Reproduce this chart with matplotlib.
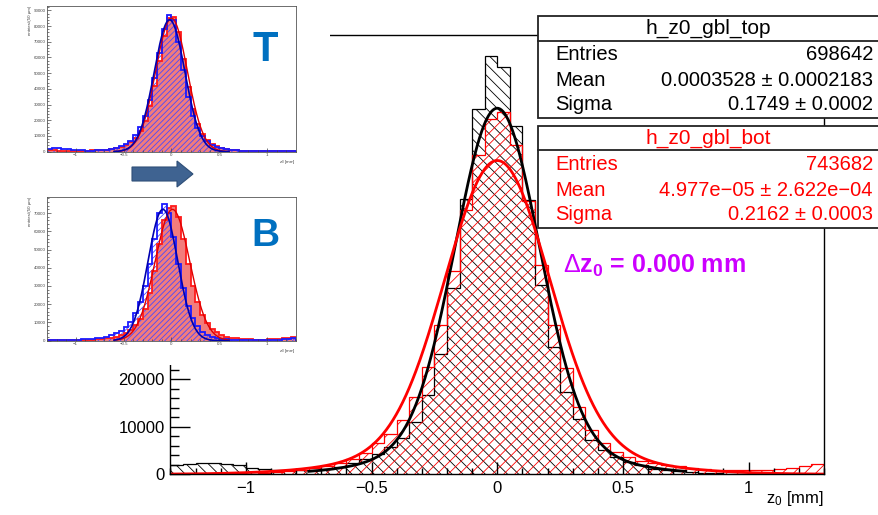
import numpy as np
import matplotlib
matplotlib.use("Agg")
import matplotlib.pyplot as plt
from matplotlib.patches import Rectangle, Polygon
from matplotlib.ticker import MultipleLocator, FixedLocator, FuncFormatter

# ---------------- data ----------------
BIN_LO, BIN_HI, BIN_W = -1.3, 1.3, 0.05

top_counts = [1900, 2100, 2400, 2400, 2200, 1900, 1400, 1200, 1000, 850,
              800, 900, 1100, 1500, 2300, 3300, 4300, 5700, 7700, 11000,
              16600, 25400, 39200, 57800, 76800, 88000, 85700, 73200, 57700, 39800,
              26800, 17300, 11700, 7200, 5200, 3600, 2600, 1900, 1200, 900,
              600, 400, 300, 200, 150, 100, 80, 60, 50, 50, 40, 40]
bot_counts = [50, 50, 50, 50, 80, 100, 150, 300, 500, 700,
              900, 1300, 1700, 2400, 3300, 4500, 6500, 8400, 11400, 16300,
              22600, 31400, 42800, 55600, 67200, 74800, 76200, 69200, 57500, 44000,
              31400, 22300, 14200, 9300, 6500, 4700, 3600, 2700, 2300, 2000,
              1700, 1300, 1100, 900, 850, 800, 900, 1000, 1200, 1400, 1700, 2100]

# double-gaussian fit parameters: A1, mean, sigma1, A2, sigma2
top_fit = [70000, 0.0, 0.165, 7000, 0.34]
top_fit_range = [-0.75, 0.75]
bot_fit = [60000, 0.0, 0.205, 6000, 0.42]
bot_fit_range = [-1.3, 1.3]

top_stats = [("Entries", "698642"), ("Mean", "0.0003528 \u00b1 0.0002183"), ("Sigma", "0.1749 \u00b1 0.0002")]
bot_stats = [("Entries", "743682"), ("Mean", "4.977e\u221205 \u00b1 2.622e\u221204"), ("Sigma", "0.2162 \u00b1 0.0003")]
top_name = "h_z0_gbl_top"
bot_name = "h_z0_gbl_bot"
delta_text = "$\\Delta$z$_\\mathbf{0}$ = 0.000 mm"

y_max_main = 92400

# inset histograms (blue = top-like, red = bottom-like)
insT_blue = [2000, 2200, 2200, 1800, 1500, 1200, 1000, 800, 700, 700,
             800, 1000, 1300, 1800, 2500, 3500, 5000, 7000, 10500, 15500,
             23000, 33000, 47000, 63000, 78000, 87000, 84000, 70000, 52000, 35000,
             23000, 15000, 10000, 6500, 4300, 3000, 2100, 1500, 1100, 800,
             600, 500, 400, 300, 300, 250, 200, 200, 150, 150, 150, 150]
insT_red = [800, 800, 700, 700, 700, 600, 600, 600, 700, 800,
            900, 1100, 1400, 1800, 2400, 3200, 4500, 6200, 9000, 13000,
            19500, 29000, 42000, 58000, 74000, 85000, 86000, 76000, 59000, 41000,
            27000, 17500, 11500, 7500, 5000, 3400, 2400, 1700, 1200, 900,
            700, 500, 400, 350, 300, 250, 200, 200, 200, 150, 150, 150]
insB_blue = [300, 300, 300, 400, 400, 500, 600, 700, 800, 1000,
             1300, 1700, 2300, 3000, 4000, 5500, 7500, 10500, 15000, 21000,
             30000, 42000, 56000, 70000, 75000, 70000, 57000, 42000, 29000, 19000,
             12500, 8000, 5000, 3300, 2200, 1500, 1100, 800, 600, 500,
             400, 300, 300, 250, 200, 200, 200, 300, 500, 800, 1200, 1500]
insB_red = [200, 200, 200, 200, 200, 300, 300, 400, 500, 600,
            800, 1000, 1300, 1700, 2300, 3100, 4300, 6000, 8500, 12000,
            17500, 26000, 38000, 53000, 66000, 73000, 74000, 68000, 56000, 42000,
            30000, 21000, 14000, 9500, 6500, 4500, 3200, 2300, 1700, 1300,
            1000, 800, 700, 600, 600, 600, 700, 800, 1000, 1300, 1700, 2200]
# single gaussian fits: A, mean, sigma
insT_blue_fit = [84000, -0.02, 0.16]
insT_red_fit = [85000, 0.0, 0.165]
insB_blue_fit = [72000, -0.09, 0.155]
insB_red_fit = [72000, 0.01, 0.18]
insT_ymax = 92800
insB_ymax = 78800

# ---------------- style ----------------
plt.rcParams['font.family'] = ['Liberation Sans', 'DejaVu Sans']
plt.rcParams['mathtext.fontset'] = 'custom'
plt.rcParams['mathtext.rm'] = 'Liberation Sans'
plt.rcParams['mathtext.it'] = 'Liberation Sans:italic'
plt.rcParams['mathtext.bf'] = 'Liberation Sans:bold'
plt.rcParams['hatch.linewidth'] = 0.6

W, H = 879, 515
fig = plt.figure(figsize=(W / 100, H / 100), dpi=100)


def ax_px(l, t, r, b):
    return [l / W, 1 - b / H, (r - l) / W, (b - t) / H]


def fx(x):
    return x / W


def fy(y):
    return 1 - y / H


nb = int(round((BIN_HI - BIN_LO) / BIN_W))
edges = np.linspace(BIN_LO, BIN_HI, nb + 1)


def dgaus(x, p):
    return p[0] * np.exp(-0.5 * ((x - p[1]) / p[2]) ** 2) + p[3] * np.exp(-0.5 * ((x - p[1]) / p[4]) ** 2)


def gaus(x, p):
    return p[0] * np.exp(-0.5 * ((x - p[1]) / p[2]) ** 2)


def xfmt(v, p):
    return ('%g' % v).replace('-', '\u2212')


# ---------------- main plot ----------------
ax = fig.add_axes(ax_px(170.5, 35, 824, 474.3))
ax.set_zorder(0)
ax.stairs(top_counts, edges, fill=True, facecolor='none', edgecolor='black',
          hatch='\\\\\\', linewidth=0.9)
ax.stairs(bot_counts, edges, fill=True, facecolor='none', edgecolor='#FF0000',
          hatch='///', linewidth=0.9)
xf = np.linspace(top_fit_range[0], top_fit_range[1], 500)
ax.plot(xf, dgaus(xf, top_fit), color='black', lw=2.0)
xf2 = np.linspace(bot_fit_range[0], bot_fit_range[1], 800)
ax.plot(xf2, dgaus(xf2, bot_fit), color='#FF0000', lw=2.0)

ax.set_xlim(BIN_LO, BIN_HI)
ax.set_ylim(0, y_max_main)
for s in ax.spines.values():
    s.set_linewidth(1.0)
ax.xaxis.set_major_locator(FixedLocator([-1, -0.5, 0, 0.5, 1]))
ax.xaxis.set_minor_locator(MultipleLocator(0.1))
ax.yaxis.set_major_locator(MultipleLocator(10000))
ax.yaxis.set_minor_locator(MultipleLocator(2000))
ax.xaxis.set_major_formatter(FuncFormatter(xfmt))
ax.yaxis.set_major_formatter(FuncFormatter(lambda v, p: '%d' % v))
ax.tick_params(axis='both', which='both', direction='in', top=False, right=False,
               labelsize=12, width=1.0)
ax.tick_params(axis='x', which='major', length=8.6, pad=5)
ax.tick_params(axis='x', which='minor', length=4.3)
ax.tick_params(axis='y', which='major', length=14.4, pad=4)
ax.tick_params(axis='y', which='minor', length=6.5)
fig.text(fx(824), fy(499), "z$_0$ [mm]", ha='right', va='center', fontsize=12)

# white cover over upper-left (pasted insets)
fig.add_artist(Rectangle((0, fy(365)), fx(330), 365 / H, transform=fig.transFigure,
                         facecolor='white', edgecolor='none', zorder=2))

# ---------------- stat boxes ----------------


def stat_box(top, sep, bottom, name, rows, color, ys):
    fig.add_artist(Rectangle((fx(538), fy(bottom)), fx(900 - 538), (bottom - top) / H,
                             transform=fig.transFigure, facecolor='white',
                             edgecolor='#222222', lw=1.3, zorder=3))
    fig.add_artist(plt.Line2D([fx(538), fx(900)], [fy(sep), fy(sep)], transform=fig.transFigure,
                              color='#222222', lw=1.3, zorder=3))
    fig.text(fx(708), fy((top + sep) / 2 + 0.5), name, ha='center', va='center',
             fontsize=15, color=color, zorder=4)
    for (lab, val), y in zip(rows, ys):
        fig.text(fx(555), fy(y), lab, ha='left', va='center', fontsize=14.5, color=color, zorder=4)
        fig.text(fx(873), fy(y), val, ha='right', va='center', fontsize=14.5, color=color, zorder=4)


stat_box(15.7, 41, 117.7, top_name, top_stats, 'black', [55, 81, 104.3])
stat_box(126, 150, 227.7, bot_name, bot_stats, '#FF0000', [164, 190, 214.3])

fig.text(fx(563), fy(266), delta_text, ha='left', va='center', fontsize=18,
         fontweight='bold', color='#CC00FF', zorder=4)

# ---------------- insets ----------------


def inset(rect, blue, red, ymax, fb, fr):
    a = fig.add_axes(ax_px(*rect))
    a.set_zorder(5)
    a.stairs(red, edges, fill=True, facecolor='#F27C7C', edgecolor='none')
    a.stairs(blue, edges, fill=True, facecolor='none', edgecolor='#4848FF',
             hatch='//////', linewidth=0)
    a.stairs(red, edges, color='#FF1A1A', lw=1.3)
    a.stairs(blue, edges, color='#1A1AFF', lw=1.3)
    xx = np.linspace(-0.6, 0.6, 300)
    a.plot(xx, gaus(xx, fr), color='#E00000', lw=1.0)
    a.plot(xx, gaus(xx, fb), color='#0000B0', lw=1.2)
    a.set_xlim(BIN_LO, BIN_HI)
    a.set_ylim(0, ymax)
    for s in a.spines.values():
        s.set_linewidth(0.6)
        s.set_color('#555555')
    a.xaxis.set_major_locator(FixedLocator([-1, -0.5, 0, 0.5, 1]))
    a.xaxis.set_minor_locator(MultipleLocator(0.1))
    a.xaxis.set_major_formatter(FuncFormatter(xfmt))
    a.yaxis.set_major_locator(MultipleLocator(10000))
    a.yaxis.set_minor_locator(MultipleLocator(2000))
    a.yaxis.set_major_formatter(FuncFormatter(lambda v, p: '%d' % v))
    a.tick_params(axis='both', which='both', direction='in', top=False, right=False,
                  labelsize=3.2, width=0.5, colors='#444444', pad=1)
    a.tick_params(which='major', length=3)
    a.tick_params(which='minor', length=1.5)
    a.set_ylabel('entries/(50 \u00b5m)', fontsize=3.2, loc='top', labelpad=1, color='#444444')
    a.set_xlabel('z$_0$ [mm]', fontsize=3.2, loc='right', labelpad=1, color='#444444')
    return a


inset((47, 6, 296, 151.7), insT_blue, insT_red, insT_ymax, insT_blue_fit, insT_red_fit)
inset((47, 197, 296, 340.7), insB_blue, insB_red, insB_ymax, insB_blue_fit, insB_red_fit)

# arrow between insets
arrow_pts = [(132, 167), (177, 167), (177, 161), (193, 174), (177, 187), (177, 181), (132, 181)]
fig.add_artist(Polygon([(fx(px), fy(py)) for px, py in arrow_pts], closed=True,
                       transform=fig.transFigure, facecolor='#3F6391', edgecolor='#2F4F78',
                       lw=0.8, zorder=6))

fig.text(fx(265), fy(50), "T", ha='center', va='center', fontsize=30, fontweight='bold',
         color='#0070C0', zorder=7)
fig.text(fx(265), fy(236), "B", ha='center', va='center', fontsize=28, fontweight='bold',
         color='#0070C0', zorder=7)

fig.savefig("out.png", dpi=100)
